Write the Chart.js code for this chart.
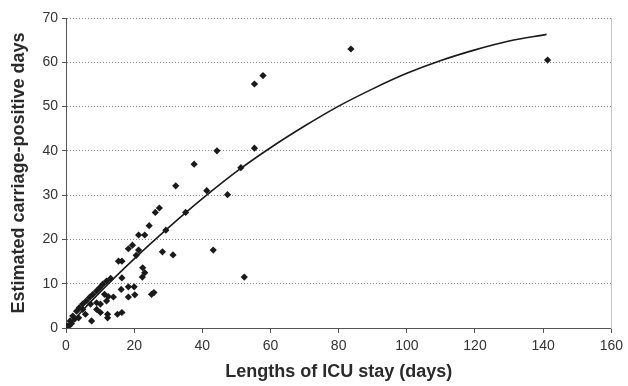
<!DOCTYPE html>
<html>
<head>
<meta charset="utf-8">
<script src="https://cdn.jsdelivr.net/npm/chart.js@4.4.0/dist/chart.umd.min.js"></script>
<style>
  html, body { margin: 0; padding: 0; background: #fff; }
  #wrap { width: 628px; height: 386px; }
</style>
</head>
<body>
<div id="wrap"><canvas id="chart" width="628" height="386"></canvas></div>
<script>
// ICU stay length (days) vs estimated carriage-positive days
const stayDays = [141.3, 83.6, 57.8, 55.3, 55.3, 52.3, 51.3, 44.3, 47.4, 41.3, 43.2, 37.6, 35.1, 32.2, 31.4,
    29.3, 28.3, 27.4, 26.2, 24.4, 25.8, 25.1, 23.1, 21.3, 21.3, 20.6, 22.5, 23.1, 22.4, 20.0, 18.3, 20.2, 18.3,
    19.5, 18.3, 16.4, 15.4, 16.4, 16.2, 16.4, 15.1, 13.1, 11.9, 10.8, 9.9, 9.0, 7.9, 6.9, 5.9, 4.9, 3.9, 3.1,
    2.0, 1.2, 0.3, 11.3, 12.4, 13.9, 11.9, 10.1, 9.0, 10.1, 12.2, 12.2, 7.5, 5.7, 4.9, 3.7, 2.5, 7.2, 9.0, 1.6, 0.8];
const carriageDays = [60.5, 63.0, 57.0, 55.1, 40.6, 11.5, 36.2, 40.0, 30.1, 31.0, 17.6, 37.0, 26.1, 32.1, 16.5,
    22.1, 17.2, 27.1, 26.1, 23.1, 8.0, 7.6, 21.0, 21.0, 17.6, 16.4, 13.6, 12.5, 11.5, 9.3, 9.3, 7.5, 7.0,
    18.7, 17.9, 15.1, 15.1, 11.3, 8.7, 3.5, 3.1, 11.2, 10.6, 9.9, 9.1, 8.4, 7.6, 6.9, 6.1, 5.4, 4.6, 3.8,
    2.7, 1.6, 0.5, 7.6, 7.1, 7.0, 6.1, 5.4, 4.2, 3.5, 3.1, 2.3, 1.6, 3.1, 4.2, 2.3, 2.0, 5.4, 5.7, 1.0, 0.4];

// fitted trend line
const trendX = [0, 10, 20, 30, 40, 50, 60, 70, 80, 90, 100, 110, 120, 130, 141];
const trendY = [0, 8.1, 15.6, 22.6, 29.2, 35.3, 40.7, 45.6, 50.1, 54.0, 57.5, 60.4, 62.8, 64.8, 66.3];

const xTicks = [0, 20, 40, 60, 80, 100, 120, 140, 160];
const yTicks = [0, 10, 20, 30, 40, 50, 60, 70];

const points = stayDays.map((x, i) => ({ x: x, y: carriageDays[i] }));
const trend = trendX.map((x, i) => ({ x: x, y: trendY[i] }));

const fontFamily = 'Arial, "Liberation Sans", sans-serif';

new Chart(document.getElementById('chart'), {
    type: 'scatter',
    data: {
        datasets: [{
            data: points,
            pointStyle: 'rectRot',
            pointRadius: 3.6,
            backgroundColor: '#1a1a1a',
            borderColor: '#1a1a1a',
            borderWidth: 0,
            order: 1
        }, {
            data: trend,
            showLine: true,
            pointRadius: 0,
            borderColor: '#1a1a1a',
            borderWidth: 1.6,
            cubicInterpolationMode: 'monotone',
            order: 0
        }]
    },
    options: {
        responsive: false,
        animation: false,
        layout: { padding: { left: 4, top: 18, right: 14, bottom: 0 } },
        plugins: { legend: { display: false }, tooltip: { enabled: false } },
        scales: {
            x: {
                type: 'linear',
                min: 0, max: 160,
                afterBuildTicks: axis => { axis.ticks = xTicks.map(v => ({ value: v })); },
                afterFit: axis => { axis.height = 58; },
                ticks: { color: '#333', font: { family: fontFamily, size: 14 }, padding: 5 },
                grid: { drawOnChartArea: false, drawTicks: true, tickLength: 5, color: '#555' },
                border: { color: '#555', width: 1 },
                title: {
                    display: true,
                    text: 'Lengths of ICU stay (days)',
                    color: '#2a2a2a',
                    font: { family: fontFamily, size: 18, weight: 'bold' },
                    padding: { top: 4, bottom: 3 }
                }
            },
            y: {
                type: 'linear',
                min: 0, max: 70,
                afterBuildTicks: axis => { axis.ticks = yTicks.map(v => ({ value: v })); },
                afterFit: axis => { axis.width = 62; },
                ticks: { color: '#333', font: { family: fontFamily, size: 14 }, padding: 4 },
                grid: {
                    color: ctx => ctx.tick && ctx.tick.value === 0 ? 'rgba(0,0,0,0)' : '#8a8a8a',
                    lineWidth: 1,
                    tickColor: '#555',
                    tickLength: 4,
                    drawTicks: true
                },
                // in v4 border.dash sets the dash of the grid lines
                border: { color: '#555', width: 1, dash: [1, 2] },
                title: {
                    display: true,
                    text: 'Estimated carriage-positive days',
                    color: '#2a2a2a',
                    font: { family: fontFamily, size: 18, weight: 'bold' },
                    padding: { top: 4, bottom: 4 }
                }
            },
            y2: {
                type: 'linear',
                position: 'right',
                min: 0, max: 70,
                afterFit: axis => { axis.width = 0; },
                ticks: { display: false },
                grid: { display: false },
                border: { color: '#c8c8c8', width: 1 }
            }
        }
    }
});
</script>
</body>
</html>
